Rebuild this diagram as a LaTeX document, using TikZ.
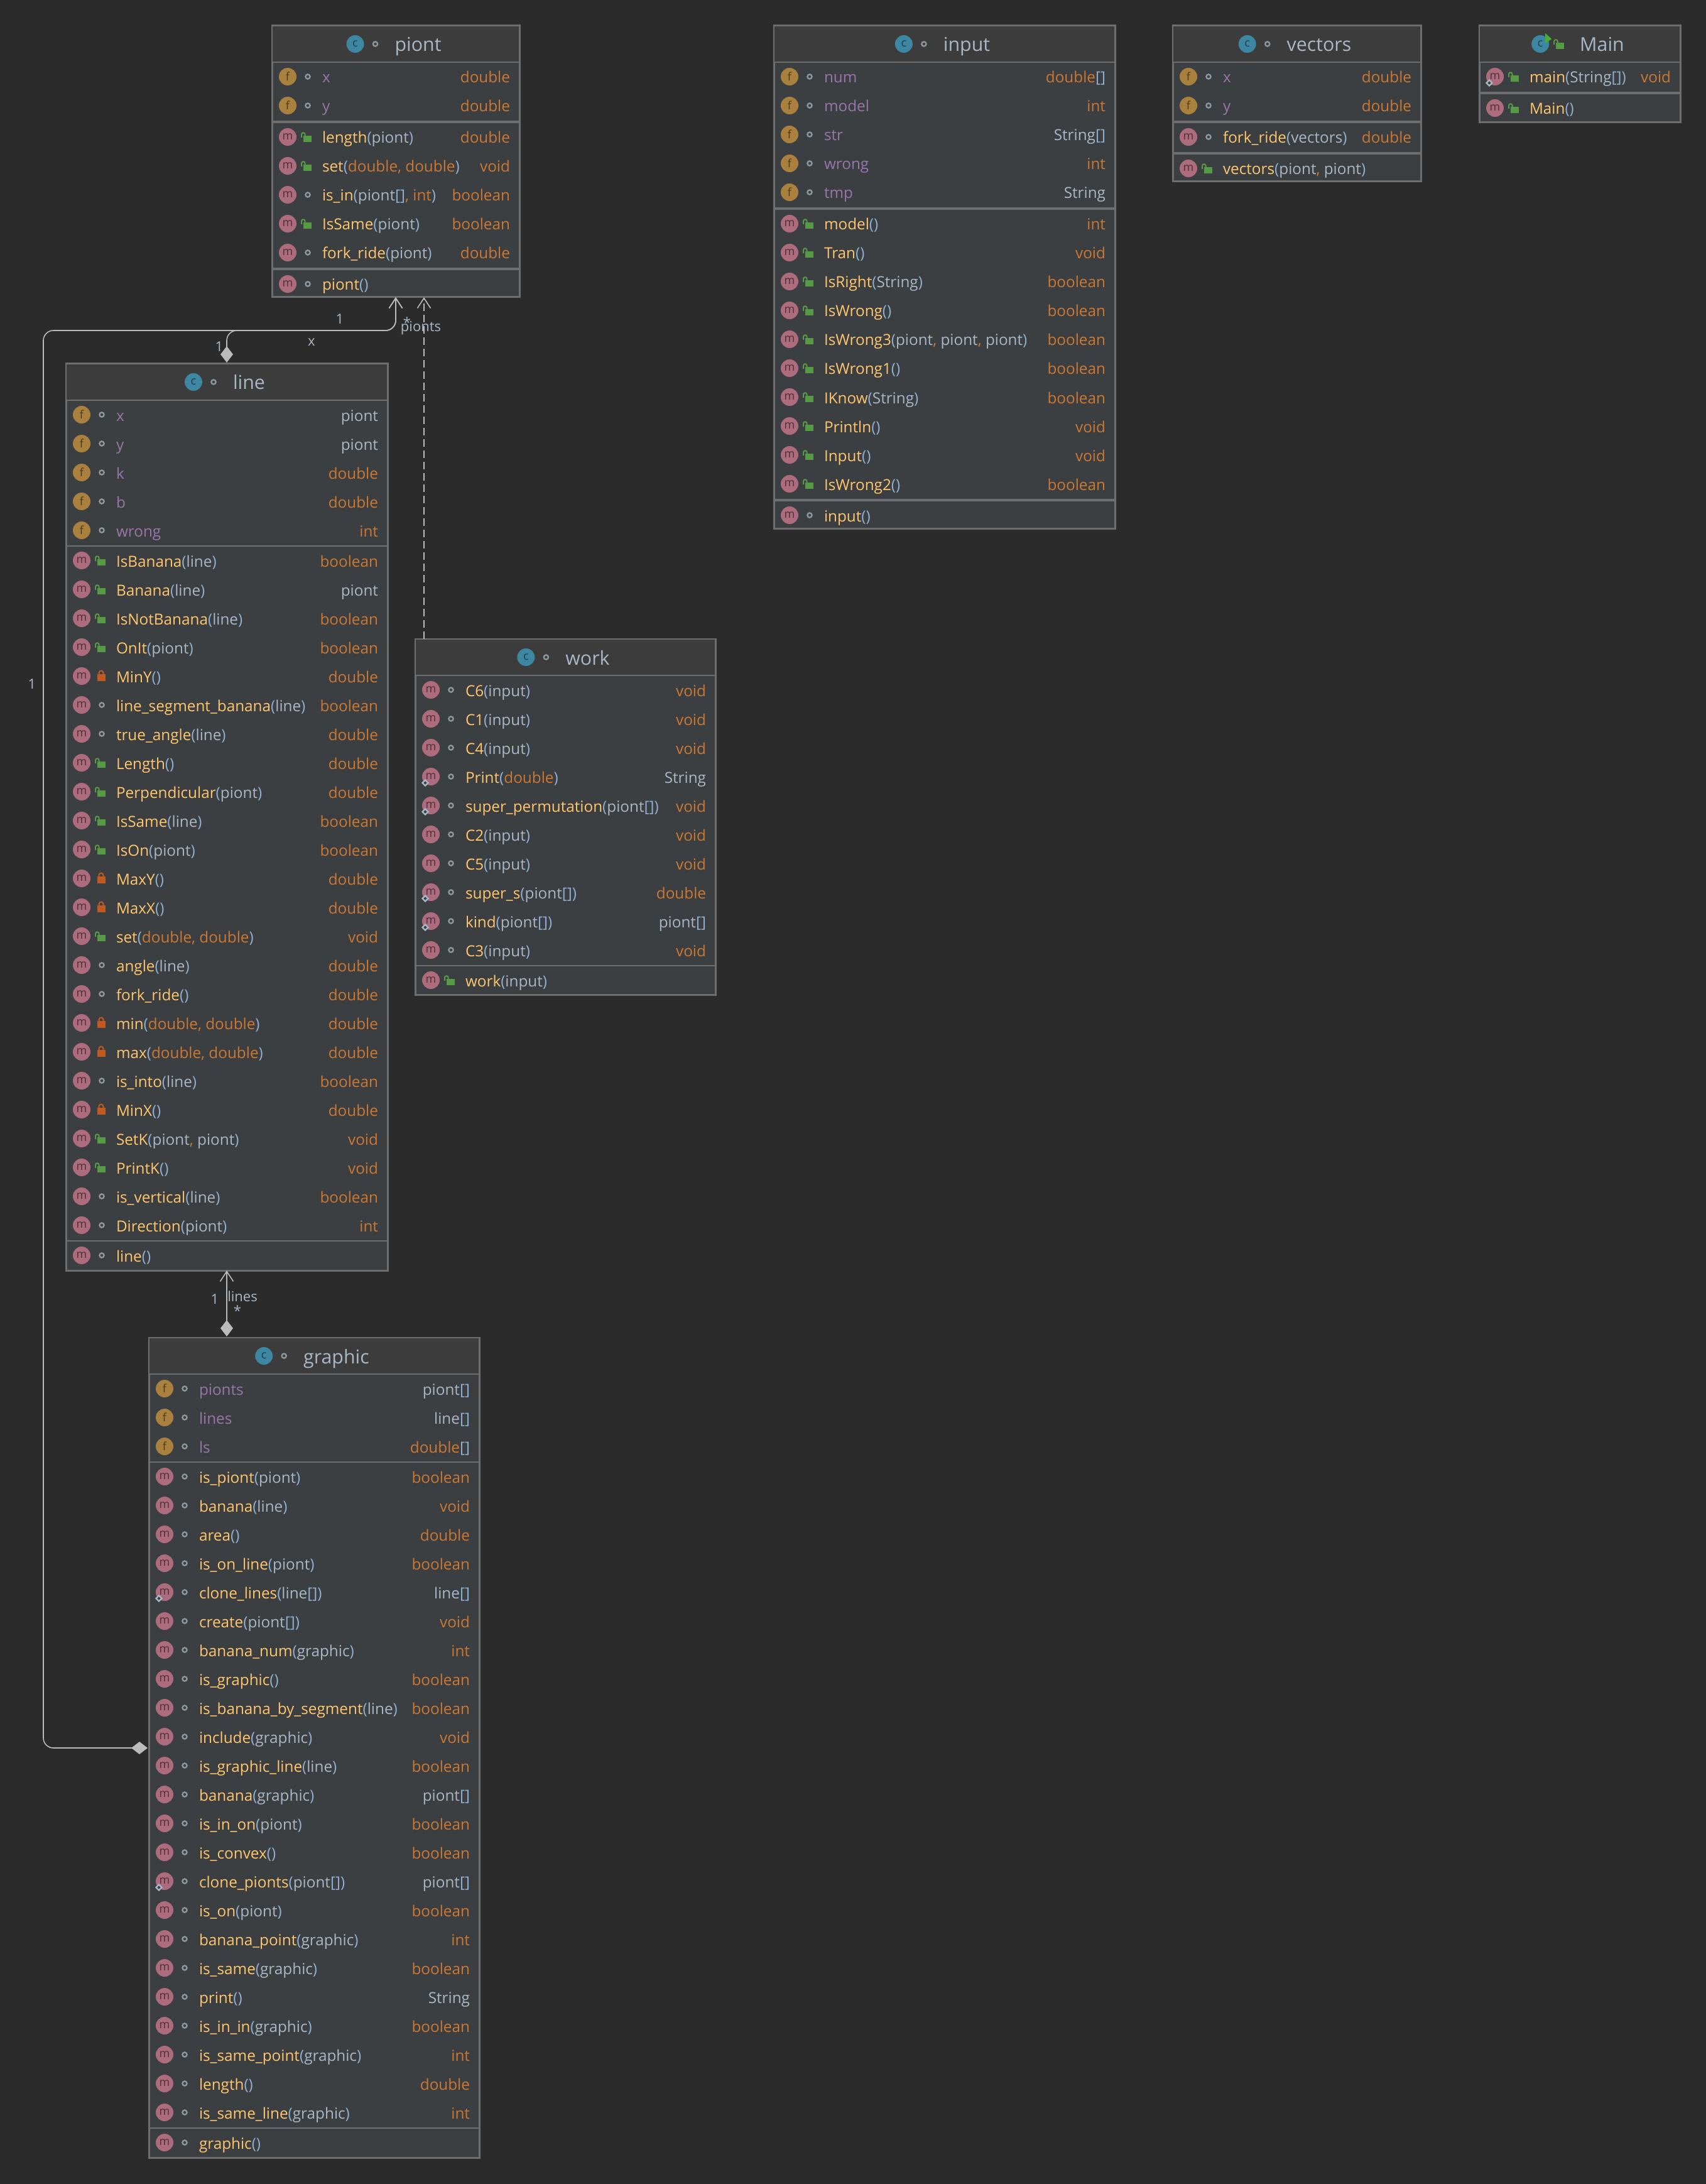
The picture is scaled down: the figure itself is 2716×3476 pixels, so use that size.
\documentclass[tikz,border=0pt]{standalone}
\usepackage{fontspec}
\setmainfont{Open Sans}
\usetikzlibrary{arrows.meta}

\definecolor{bgcol}{HTML}{2B2B2B}
\definecolor{headcol}{HTML}{3C3C3C}
\definecolor{bodycol}{HTML}{3C3F41}
\definecolor{edgecol}{HTML}{6E6E6E}
\definecolor{linkcol}{HTML}{BBBBBB}
\definecolor{txtcol}{HTML}{A9B7C6}
\definecolor{parcol}{HTML}{8FAFD2}
\definecolor{mthcol}{HTML}{FFC66D}
\definecolor{fldcol}{HTML}{9876AA}
\definecolor{primcol}{HTML}{CC7832}
\definecolor{mfill}{HTML}{AD6B7E}
\definecolor{ffill}{HTML}{A9803E}
\definecolor{cfill}{HTML}{3E87A3}
\definecolor{ringcol}{HTML}{8A959C}
\definecolor{pubcol}{HTML}{579A45}
\definecolor{prvcol}{HTML}{C05A22}

\begin{document}
\begin{tikzpicture}[x=.2pt,y=-.2pt]
  %--------------------------------------------
  % Tamanho de um pixel da figura
  %--------------------------------------------
  \def\px{.2pt}

  %--------------------------------------------
  % Estilos de bloco, texto e ligação
  %--------------------------------------------
  \tikzstyle{block} = [
    draw=edgecol, fill=bodycol, rectangle, line width=3*\px,
    inner sep=0pt, outer sep=0pt
  ]
  \tikzstyle{headblock} = [
    draw=edgecol, fill=headcol, rectangle, line width=2*\px,
    inner sep=0pt, outer sep=0pt, minimum height=58*\px
  ]
  \tikzstyle{titletext} = [inner sep=0pt, text=txtcol, font=\fontsize{6.07}{7}\selectfont]
  \tikzstyle{rowtext} = [inner sep=0pt, text=txtcol, font=\fontsize{4.86}{6}\selectfont]
  \tikzstyle{edgelabel} = [inner sep=0pt, text=txtcol, font=\fontsize{4.4}{5}\selectfont]
  \tikzstyle{icon} = [circle, inner sep=0pt, minimum size=28*\px, font=\fontsize{3.6}{4}\selectfont]
  \tikzstyle{iconm} = [icon, fill=mfill, text=mfill!45!black]
  \tikzstyle{iconb} = [iconm]
  \tikzstyle{iconf} = [icon, fill=ffill, text=ffill!45!black]
  \tikzstyle{iconc} = [icon, fill=cfill, text=cfill!45!black]
  \tikzstyle{assoc} = [
    draw=linkcol, line width=1.6*\px, rounded corners=3.2pt, shorten <=2*\px,
    {Diamond[length=5.2pt,width=4pt,fill=linkcol]}-{Straight Barb[length=3.2pt,width=4.2pt]}
  ]
  \tikzstyle{depend} = [
    draw=linkcol, line width=1.6*\px, dash pattern=on 2.4pt off 1.2pt,
    -{Straight Barb[length=3.2pt,width=4.2pt]}
  ]

  %--------------------------------------------
  % Marcas de visibilidade e distintivos
  %--------------------------------------------
  \tikzset{
    pkg/.pic={\draw[ringcol, line width=2.4*\px] (0,0) circle[radius=3.6];},
    pub/.pic={
      \fill[pubcol] (-7,-2) rectangle (6,8);
      \draw[pubcol, line width=2*\px] (-10,1) -- (-10,-4) arc[start angle=180, end angle=360, radius=2.8] -- (-4.4,-2);
    },
    prv/.pic={
      \fill[prvcol] (-7,-3) rectangle (6,8);
      \draw[prvcol, line width=2*\px] (-4.5,-3) -- (-4.5,-5) arc[start angle=180, end angle=360, radius=3.5] -- (2.5,-3);
    },
    bdgm/.pic={}, bdgf/.pic={},
    bdgb/.pic={\draw[txtcol, line width=2.4*\px, fill=bodycol] (-4.5,0) -- (0,-4.5) -- (4.5,0) -- (0,4.5) -- cycle;},
    play/.pic={\fill[pubcol!80!green] (-5,-9) -- (5,0) -- (-5,7) -- cycle;}
  }
  \def\txtm{m}\def\txtb{m}\def\txtf{f}

  %--------------------------------------------
  % Pedaços de texto de cada linha
  %--------------------------------------------
  \def\cls#1{\textcolor{txtcol}{#1}}
  \def\prim#1{\textcolor{primcol}{#1}}
  \def\fld#1{\textcolor{fldcol}{#1}}
  \def\arr{\textcolor{parcol}{[]}}
  \def\cma{\textcolor{primcol}{,} }
  \def\mth#1#2{\textcolor{mthcol}{#1}\textcolor{parcol}{(}#2\textcolor{parcol}{)}}

  %--------------------------------------------
  % Bloco de classe: nome, x, y, largura, altura, título, visibilidade
  %--------------------------------------------
  \def\umlbox#1#2#3#4#5#6#7{
    \node[block, anchor=north west, minimum width=#4*\px, minimum height=#5*\px] (#1) at (#2,#3) {};
    \node[headblock, anchor=north, minimum width=#4*\px] (#1-head) at (#1.north) {};
    \node[titletext, anchor=base] (#1-title) at ([xshift=35.5*\px, yshift=-41*\px]#1.north) {#6};
    \coordinate (#1-tw) at (#1-title.west |- #1-head.center);
    \node[iconc] (#1-c) at ([xshift=-62*\px]#1-tw) {c};
    \pic at ([xshift=-30*\px]#1-tw) {#7};
  }

  %--------------------------------------------
  % Linhas de um bloco: nome, distância do topo, lista
  % (\divw e \divgap dão a espessura e a posição do separador)
  %--------------------------------------------
  \def\divw{3.4}
  \def\divgap{24}
  \def\umlrows#1#2#3{
    \ifnum#2>81
      \draw[edgecol, line width=\divw*\px] ([yshift={-(#2-\divgap)*\px}]#1.north west) -- ([yshift={-(#2-\divgap)*\px}]#1.north east);
    \fi
    \foreach [count=\i from 0] \ic/\vis/\lbl/\typ in {#3} {
      \pgfmathtruncatemacro\off{#2+\i*46}
      \node[icon\ic] (#1-i\off) at ([xshift=25*\px, yshift={-\off*\px}]#1.north west) {\csname txt\ic\endcsname};
      \pic at ([xshift=57*\px, yshift={-\off*\px}]#1.north west) {\vis};
      \pic at ([xshift=16*\px, yshift={-(\off+10)*\px}]#1.north west) {bdg\ic};
      \node[rowtext, anchor=base west] (#1-l\off) at ([xshift=79*\px, yshift={-(\off+10)*\px}]#1.north west) {\lbl};
      \node[rowtext, anchor=base east] (#1-r\off) at ([xshift=-14*\px, yshift={-(\off+10)*\px}]#1.north east) {\typ};
    }
  }

  %--------------------------------------------
  % Fundo
  %--------------------------------------------
  \fill[bgcol] (0,0) rectangle (2716,3476);

  %--------------------------------------------
  % Classe piont
  %--------------------------------------------
  \umlbox{piont}{433}{41}{394}{432}{piont}{pkg}
  \umlrows{piont}{81}{
    f/pkg/\fld{x}/\prim{double},
    f/pkg/\fld{y}/\prim{double}}
  \umlrows{piont}{177}{
    m/pub/{\mth{length}{\cls{piont}}}/\prim{double},
    m/pub/{\mth{set}{\prim{double}\cma\prim{double}}}/\prim{void},
    m/pkg/{\mth{is\_in}{\cls{piont}\arr\cma\prim{int}}}/\prim{boolean},
    m/pub/{\mth{IsSame}{\cls{piont}}}/\prim{boolean},
    m/pkg/{\mth{fork\_ride}{\cls{piont}}}/\prim{double}}
  \umlrows{piont}{411}{m/pkg/{\mth{piont}{}}/{}}

  %--------------------------------------------
  % Classe input
  %--------------------------------------------
  \umlbox{input}{1232}{41}{543}{800}{input}{pkg}
  \umlrows{input}{81}{
    f/pkg/\fld{num}/{\prim{double}\arr},
    f/pkg/\fld{model}/\prim{int},
    f/pkg/\fld{str}/{\cls{String}\arr},
    f/pkg/\fld{wrong}/\prim{int},
    f/pkg/\fld{tmp}/\cls{String}}
  \umlrows{input}{315}{
    m/pub/{\mth{model}{}}/\prim{int},
    m/pub/{\mth{Tran}{}}/\prim{void},
    m/pub/{\mth{IsRight}{\cls{String}}}/\prim{boolean},
    m/pub/{\mth{IsWrong}{}}/\prim{boolean},
    m/pub/{\mth{IsWrong3}{\cls{piont}\cma\cls{piont}\cma\cls{piont}}}/\prim{boolean},
    m/pub/{\mth{IsWrong1}{}}/\prim{boolean},
    m/pub/{\mth{IKnow}{\cls{String}}}/\prim{boolean},
    m/pub/{\mth{Println}{}}/\prim{void},
    m/pub/{\mth{Input}{}}/\prim{void},
    m/pub/{\mth{IsWrong2}{}}/\prim{boolean}}
  \umlrows{input}{779}{m/pkg/{\mth{input}{}}/{}}

  %--------------------------------------------
  % Classe vectors
  %--------------------------------------------
  \umlbox{vectors}{1867}{41}{395}{248}{vectors}{pkg}
  \umlrows{vectors}{81}{
    f/pkg/\fld{x}/\prim{double},
    f/pkg/\fld{y}/\prim{double}}
  \umlrows{vectors}{177}{m/pkg/{\mth{fork\_ride}{\cls{vectors}}}/\prim{double}}
  \umlrows{vectors}{227}{m/pub/{\mth{vectors}{\cls{piont}\cma\cls{piont}}}/{}}

  %--------------------------------------------
  % Classe Main
  %--------------------------------------------
  \umlbox{Main}{2355}{41}{320}{154}{Main}{pub}
  \umlrows{Main}{81}{b/pub/{\mth{main}{\cls{String}\arr}}/\prim{void}}
  \umlrows{Main}{131}{m/pub/{\mth{Main}{}}/{}}
  \pic at ([xshift=13*\px, yshift=8*\px]Main-c.center) {play};

  %--------------------------------------------
  % Classe line (separadores finos daqui em diante)
  %--------------------------------------------
  \def\divw{2}
  \def\divgap{23}
  \umlbox{line}{105}{579}{512}{1443}{line}{pkg}
  \umlrows{line}{81}{
    f/pkg/\fld{x}/\cls{piont},
    f/pkg/\fld{y}/\cls{piont},
    f/pkg/\fld{k}/\prim{double},
    f/pkg/\fld{b}/\prim{double},
    f/pkg/\fld{wrong}/\prim{int}}
  \umlrows{line}{313}{
    m/pub/{\mth{IsBanana}{\cls{line}}}/\prim{boolean},
    m/pub/{\mth{Banana}{\cls{line}}}/\cls{piont},
    m/pub/{\mth{IsNotBanana}{\cls{line}}}/\prim{boolean},
    m/pub/{\mth{OnIt}{\cls{piont}}}/\prim{boolean},
    m/prv/{\mth{MinY}{}}/\prim{double},
    m/pkg/{\mth{line\_segment\_banana}{\cls{line}}}/\prim{boolean},
    m/pkg/{\mth{true\_angle}{\cls{line}}}/\prim{double},
    m/pub/{\mth{Length}{}}/\prim{double},
    m/pub/{\mth{Perpendicular}{\cls{piont}}}/\prim{double},
    m/pub/{\mth{IsSame}{\cls{line}}}/\prim{boolean},
    m/pub/{\mth{IsOn}{\cls{piont}}}/\prim{boolean},
    m/prv/{\mth{MaxY}{}}/\prim{double},
    m/prv/{\mth{MaxX}{}}/\prim{double},
    m/pub/{\mth{set}{\prim{double}\cma\prim{double}}}/\prim{void},
    m/pkg/{\mth{angle}{\cls{line}}}/\prim{double},
    m/pkg/{\mth{fork\_ride}{}}/\prim{double},
    m/prv/{\mth{min}{\prim{double}\cma\prim{double}}}/\prim{double},
    m/prv/{\mth{max}{\prim{double}\cma\prim{double}}}/\prim{double},
    m/pkg/{\mth{is\_into}{\cls{line}}}/\prim{boolean},
    m/prv/{\mth{MinX}{}}/\prim{double},
    m/pub/{\mth{SetK}{\cls{piont}\cma\cls{piont}}}/\prim{void},
    m/pub/{\mth{PrintK}{}}/\prim{void},
    m/pkg/{\mth{is\_vertical}{\cls{line}}}/\prim{boolean},
    m/pkg/{\mth{Direction}{\cls{piont}}}/\prim{int}}
  \umlrows{line}{1419}{m/pkg/{\mth{line}{}}/{}}

  %--------------------------------------------
  % Classe work
  %--------------------------------------------
  \umlbox{work}{661}{1017}{478}{566}{work}{pkg}
  \umlrows{work}{81}{
    m/pkg/{\mth{C6}{\cls{input}}}/\prim{void},
    m/pkg/{\mth{C1}{\cls{input}}}/\prim{void},
    m/pkg/{\mth{C4}{\cls{input}}}/\prim{void},
    b/pkg/{\mth{Print}{\prim{double}}}/\cls{String},
    b/pkg/{\mth{super\_permutation}{\cls{piont}\arr}}/\prim{void},
    m/pkg/{\mth{C2}{\cls{input}}}/\prim{void},
    m/pkg/{\mth{C5}{\cls{input}}}/\prim{void},
    b/pkg/{\mth{super\_s}{\cls{piont}\arr}}/\prim{double},
    b/pkg/{\mth{kind}{\cls{piont}\arr}}/{\cls{piont}\arr},
    m/pkg/{\mth{C3}{\cls{input}}}/\prim{void}}
  \umlrows{work}{543}{m/pub/{\mth{work}{\cls{input}}}/{}}

  %--------------------------------------------
  % Classe graphic
  %--------------------------------------------
  \umlbox{graphic}{237}{2129}{526}{1305}{graphic}{pkg}
  \umlrows{graphic}{81}{
    f/pkg/\fld{pionts}/{\cls{piont}\arr},
    f/pkg/\fld{lines}/{\cls{line}\arr},
    f/pkg/\fld{ls}/{\prim{double}\arr}}
  \umlrows{graphic}{221}{
    m/pkg/{\mth{is\_piont}{\cls{piont}}}/\prim{boolean},
    m/pkg/{\mth{banana}{\cls{line}}}/\prim{void},
    m/pkg/{\mth{area}{}}/\prim{double},
    m/pkg/{\mth{is\_on\_line}{\cls{piont}}}/\prim{boolean},
    b/pkg/{\mth{clone\_lines}{\cls{line}\arr}}/{\cls{line}\arr},
    m/pkg/{\mth{create}{\cls{piont}\arr}}/\prim{void},
    m/pkg/{\mth{banana\_num}{\cls{graphic}}}/\prim{int},
    m/pkg/{\mth{is\_graphic}{}}/\prim{boolean},
    m/pkg/{\mth{is\_banana\_by\_segment}{\cls{line}}}/\prim{boolean},
    m/pkg/{\mth{include}{\cls{graphic}}}/\prim{void},
    m/pkg/{\mth{is\_graphic\_line}{\cls{line}}}/\prim{boolean},
    m/pkg/{\mth{banana}{\cls{graphic}}}/{\cls{piont}\arr},
    m/pkg/{\mth{is\_in\_on}{\cls{piont}}}/\prim{boolean},
    m/pkg/{\mth{is\_convex}{}}/\prim{boolean},
    b/pkg/{\mth{clone\_pionts}{\cls{piont}\arr}}/{\cls{piont}\arr},
    m/pkg/{\mth{is\_on}{\cls{piont}}}/\prim{boolean},
    m/pkg/{\mth{banana\_point}{\cls{graphic}}}/\prim{int},
    m/pkg/{\mth{is\_same}{\cls{graphic}}}/\prim{boolean},
    m/pkg/{\mth{print}{}}/\cls{String},
    m/pkg/{\mth{is\_in\_in}{\cls{graphic}}}/\prim{boolean},
    m/pkg/{\mth{is\_same\_point}{\cls{graphic}}}/\prim{int},
    m/pkg/{\mth{length}{}}/\prim{double},
    m/pkg/{\mth{is\_same\_line}{\cls{graphic}}}/\prim{int}}
  \umlrows{graphic}{1281}{m/pkg/{\mth{graphic}{}}/{}}

  %--------------------------------------------
  % Ligações
  %--------------------------------------------
  \coordinate (busline) at (69,526);
  \coordinate (sidey) at (0,2782);
  \coordinate (dashtop) at ([xshift=45*\px]piont.south);
  \draw[assoc] (line.north) -- (line.north |- busline) -- (piont.south |- busline) -- (piont.south);
  \draw[assoc] (graphic.west |- sidey) -- (busline |- sidey) -- (busline) -- (piont.south |- busline) -- (piont.south);
  \draw[assoc] (graphic.north -| line.south) -- (line.south);
  \draw[depend] (work.north -| dashtop) -- (dashtop);

  %--------------------------------------------
  % Rótulos das ligações
  %--------------------------------------------
  \node[edgelabel] (lb1) at (541,508) {1};
  \node[edgelabel] (lb2) at (648,513) {*};
  \node[edgelabel] (lb3) at (670,522) {pionts};
  \node[edgelabel] (lb4) at (496,545) {x};
  \node[edgelabel] (lb5) at (349,552) {1};
  \node[edgelabel] (lb6) at (51,1089) {1};
  \node[edgelabel] (lb7) at (342,2068) {1};
  \node[edgelabel] (lb8) at (386,2063) {lines};
  \node[edgelabel] (lb9) at (378,2086) {*};
\end{tikzpicture}
\end{document}
